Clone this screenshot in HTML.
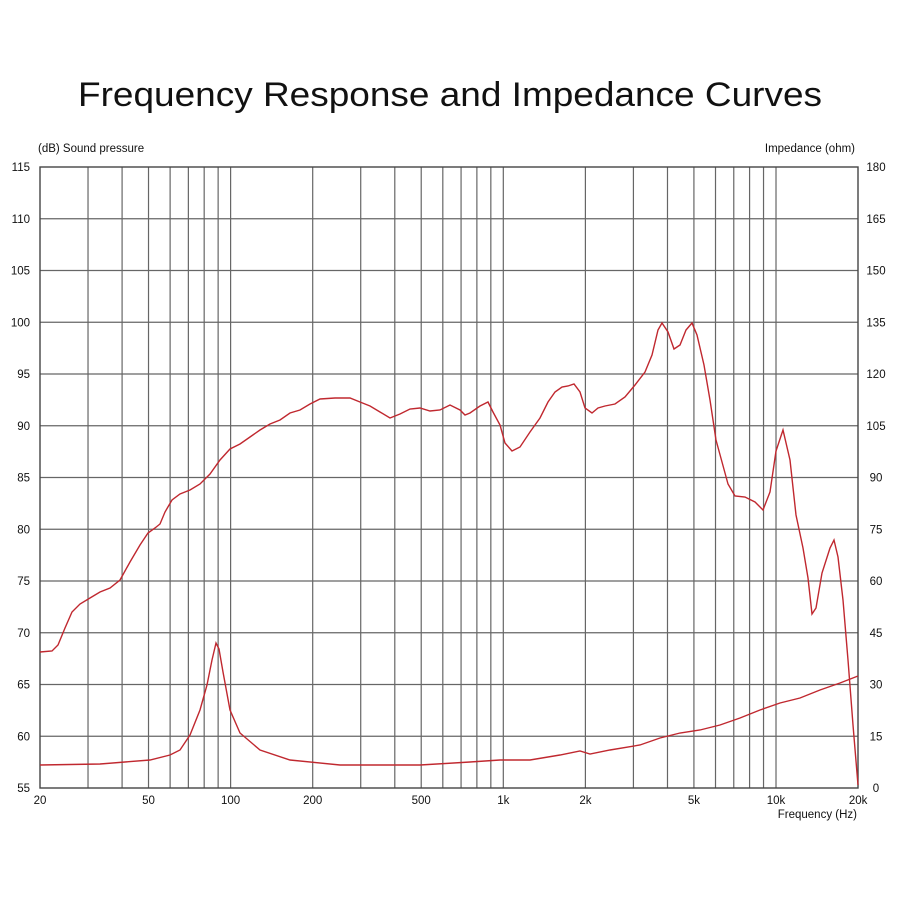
<!DOCTYPE html>
<html><head><meta charset="utf-8"><style>
html,body{margin:0;padding:0;background:#fff}
svg{display:block}
text{font-family:"Liberation Sans",Arial,sans-serif;fill:#111}
</style></head><body>
<svg width="900" height="900" viewBox="0 0 900 900" xmlns="http://www.w3.org/2000/svg">
<rect width="900" height="900" fill="#fff"/>
<text x="450" y="106" font-size="34" text-anchor="middle" textLength="744" lengthAdjust="spacingAndGlyphs">Frequency Response and Impedance Curves</text>
<g id="grid" stroke="#666" stroke-width="1.2" fill="none"></g>
<rect x="40" y="167" width="818" height="621" fill="none" stroke="#444" stroke-width="1.4"/>
<g id="labels" font-size="11.5"></g>
<text x="38" y="152" font-size="11.5">(dB)  Sound pressure</text>
<text x="855" y="152" font-size="11.5" text-anchor="end">Impedance  (ohm)</text>
<text x="857" y="818" font-size="11.5" text-anchor="end">Frequency  (Hz)</text>
<polyline fill="none" stroke="#c0282f" stroke-width="1.4" points="40,652 52,651 58,645 65,628 72,612 80,604 90,598 100,592 110,588 120,580 130,562 140,545 148,533 155,528 160,524 165,512 172,500 180,494 190,490 200,484 210,474 220,460 230,449 240,444 250,437 260,430 270,424 280,420 290,413 300,410 310,404 320,399 335,398 350,398 360,402 370,406 380,412 390,418 400,414 410,409 420,408 430,411 440,410 450,405 460,410 465,415 470,413 480,406 488,402 493,412 500,425 505,443 512,451 520,447 530,432 540,418 548,402 555,392 562,387 568,386 574,384 580,392 585,408 592,413 598,408 605,406 615,404 625,397 635,385 645,372 652,355 658,330 662,323 668,332 674,349 680,345 686,330 692,323 697,335 704,365 710,400 716,440 722,462 728,484 735,496 745,497 755,502 763,510 770,492 776,451 783,430 790,460 796,515 803,548 808,578 812,614 816,608 822,573 830,548 834,540 838,557 843,600 848,660 853,725 858,785"/>
<polyline fill="none" stroke="#c0282f" stroke-width="1.4" points="40,765 100,764 150,760 170,755 180,750 190,735 200,710 207,685 212,660 216,643 219,649 223,672 230,710 240,733 260,750 290,760 340,765 420,765 470,762 500,760 530,760 560,755 580,751 590,754 610,750 640,745 660,738 680,733 700,730 720,725 740,718 760,710 780,703 800,698 820,690 840,683 858,676"/>
<script>
(function(){
var ns="http://www.w3.org/2000/svg";
var g=document.getElementById('grid'),L=document.getElementById('labels');
function X(f){return 40+(Math.log10(f)-Math.log10(20))*272.7;}
function Y(db){return 788-(db-55)*10.35;}
function ln(x1,y1,x2,y2){var l=document.createElementNS(ns,'line');l.setAttribute('x1',x1);l.setAttribute('y1',y1);l.setAttribute('x2',x2);l.setAttribute('y2',y2);g.appendChild(l);}
function tx(x,y,s,a){var t=document.createElementNS(ns,'text');t.setAttribute('x',x);t.setAttribute('y',y);t.setAttribute('text-anchor',a);t.textContent=s;L.appendChild(t);}
[30,40,50,60,70,80,90,100,200,300,400,500,600,700,800,900,1000,2000,3000,4000,5000,6000,7000,8000,9000,10000].forEach(function(f){var x=X(f);ln(x,167,x,788);});
for(var d=60;d<=110;d+=5){ln(40,Y(d),858,Y(d));}
for(var d=55;d<=115;d+=5){tx(30,Y(d)+4,String(d),'end');tx(876,Y(d)+4,String((d-55)*3),'middle');}
[[20,'20'],[50,'50'],[100,'100'],[200,'200'],[500,'500'],[1000,'1k'],[2000,'2k'],[5000,'5k'],[10000,'10k'],[20000,'20k']].forEach(function(p){tx(X(p[0]),804,p[1],'middle');});
})();
</script>
</svg>
</body></html>
